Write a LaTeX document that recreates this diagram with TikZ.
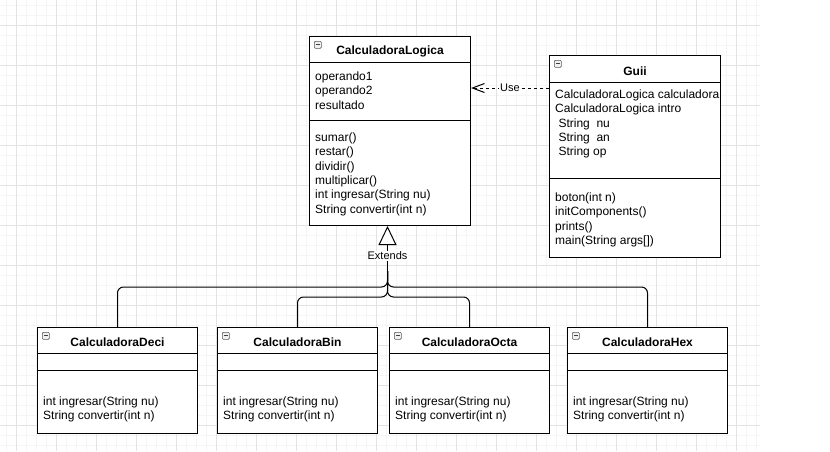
\documentclass[tikz,border=0pt]{standalone}
\usepackage{fontspec}
\setmainfont{Liberation Sans}
\usetikzlibrary{positioning,arrows.meta}

\definecolor{gridmaj}{gray}{0.89}
\definecolor{gridmin}{gray}{0.96}

\begin{document}
\begin{tikzpicture}[
  x=1pt, y=-1pt,
  font=\fontsize{12}{14.4}\selectfont,
  cls/.style={draw, fill=white, line width=1pt, anchor=north west, inner sep=0pt},
  sep/.style={line width=1pt},
  title/.style={anchor=base, inner sep=0pt, font=\fontsize{12}{14.4}\selectfont\bfseries},
  members/.style={align=left, inner sep=0pt},
  icon/.style={draw=gray!70!black, fill=gray!12, line width=0.6pt, rounded corners=1pt,
    minimum size=7pt, inner sep=0pt, anchor=north west,
    path picture={\draw[line width=0.9pt, black!75] ([xshift=1.6pt]path picture bounding box.west) -- ([xshift=-1.6pt]path picture bounding box.east);}},
  lbl/.style={fill=white, inner sep=1pt, font=\fontsize{11}{13.2}\selectfont},
  branch/.style={line width=1pt, rounded corners=6pt},
  ext/.style={line width=1pt, -{Triangle[length=19pt, width=18pt, fill=white]}},
  dep/.style={line width=1pt, dash pattern=on 3pt off 3pt, -{Straight Barb[length=12pt, width=9pt]}}]

  % background grid
  \fill[white] (0,0) rectangle (830,451);
  \useasboundingbox (0,0) rectangle (830,451);
  \foreach \i in {0,...,75} \draw[gridmin, line width=0.6pt] (6.7+10*\i,0) -- (6.7+10*\i,451);
  \foreach \j in {0,...,44} \draw[gridmin, line width=0.6pt] (0,5.7+10*\j) -- (760,5.7+10*\j);
  \foreach \i in {0,...,18} \draw[gridmaj, line width=0.6pt] (16.7+40*\i,0) -- (16.7+40*\i,451);
  \foreach \j in {0,...,10} \draw[gridmaj, line width=0.6pt] (0,25.7+40*\j) -- (760,25.7+40*\j);

  % CalculadoraLogica
  \node[cls, minimum width=161pt, minimum height=189pt] (logica) at (309,36) {};
  \node[icon, below right=5pt and 5pt of logica.north west] (logicaI) {};
  \node[title] (logicaT) at ([yshift=-18pt]logica.north) {CalculadoraLogica};
  \draw[sep] ([yshift=-26pt]logica.north west) -- ([yshift=-26pt]logica.north east);
  \draw[sep] ([yshift=-84pt]logica.north west) -- ([yshift=-84pt]logica.north east);
  \node[members, below right=34pt and 6pt of logica.north west] (logicaA) {\strut operando1\\operando2\\resultado};
  \node[members, below right=95pt and 6pt of logica.north west] (logicaM) {\strut sumar()\\restar()\\dividir()\\multiplicar()\\int ingresar(String nu)\\String convertir(int n)};

  % Guii
  \node[cls, minimum width=171pt, minimum height=202pt] (guii) at (549,55) {};
  \node[icon, below right=5pt and 5pt of guii.north west] (guiiI) {};
  \node[title] (guiiT) at ([yshift=-20pt]guii.north) {Guii};
  \draw[sep] ([yshift=-27pt]guii.north west) -- ([yshift=-27pt]guii.north east);
  \draw[sep] ([yshift=-123pt]guii.north west) -- ([yshift=-123pt]guii.north east);
  \node[members, below right=33pt and 6pt of guii.north west] (guiiA) {\strut CalculadoraLogica calculadora\\CalculadoraLogica intro\\\hspace*{3.3pt}String\ \ nu\\\hspace*{3.3pt}String\ \ an\\\hspace*{3.3pt}String op};
  \node[members, below right=136pt and 6pt of guii.north west] (guiiM) {\strut boton(int n)\\initComponents()\\prints()\\main(String args[])};

  % CalculadoraDeci
  \node[cls, minimum width=160pt, minimum height=106pt] (deci) at (37,327) {};
  \node[icon, below right=5pt and 5pt of deci.north west] (deciI) {};
  \node[title] (deciT) at ([yshift=-19pt]deci.north) {CalculadoraDeci};
  \draw[sep] ([yshift=-26pt]deci.north west) -- ([yshift=-26pt]deci.north east);
  \draw[sep] ([yshift=-43pt]deci.north west) -- ([yshift=-43pt]deci.north east);
  \node[members, below right=68pt and 6pt of deci.north west] (deciM) {\strut int ingresar(String nu)\\String convertir(int n)};

  % CalculadoraBin
  \node[cls, minimum width=160pt, minimum height=106pt] (bin) at (217,327) {};
  \node[icon, below right=5pt and 5pt of bin.north west] (binI) {};
  \node[title] (binT) at ([yshift=-19pt]bin.north) {CalculadoraBin};
  \draw[sep] ([yshift=-26pt]bin.north west) -- ([yshift=-26pt]bin.north east);
  \draw[sep] ([yshift=-43pt]bin.north west) -- ([yshift=-43pt]bin.north east);
  \node[members, below right=68pt and 6pt of bin.north west] (binM) {\strut int ingresar(String nu)\\String convertir(int n)};

  % CalculadoraOcta
  \node[cls, minimum width=160pt, minimum height=106pt] (octa) at (389,327) {};
  \node[icon, below right=5pt and 5pt of octa.north west] (octaI) {};
  \node[title] (octaT) at ([yshift=-19pt]octa.north) {CalculadoraOcta};
  \draw[sep] ([yshift=-26pt]octa.north west) -- ([yshift=-26pt]octa.north east);
  \draw[sep] ([yshift=-43pt]octa.north west) -- ([yshift=-43pt]octa.north east);
  \node[members, below right=68pt and 6pt of octa.north west] (octaM) {\strut int ingresar(String nu)\\String convertir(int n)};

  % CalculadoraHex
  \node[cls, minimum width=160pt, minimum height=106pt] (hex) at (567,327) {};
  \node[icon, below right=5pt and 5pt of hex.north west] (hexI) {};
  \node[title] (hexT) at ([yshift=-19pt]hex.north) {CalculadoraHex};
  \draw[sep] ([yshift=-26pt]hex.north west) -- ([yshift=-26pt]hex.north east);
  \draw[sep] ([yshift=-43pt]hex.north west) -- ([yshift=-43pt]hex.north east);
  \node[members, below right=68pt and 6pt of hex.north west] (hexM) {\strut int ingresar(String nu)\\String convertir(int n)};

  % inheritance
  \coordinate (inh) at ([xshift=-2.5pt]logica.south);
  \coordinate (trunk) at ([yshift=-45pt]inh);
  \draw[branch] (deci.north) |- ([yshift=-61pt]inh) -- (trunk);
  \draw[branch] (bin.north) |- ([yshift=-71pt]inh) -- (trunk);
  \draw[branch] (octa.north) |- ([yshift=-71pt]inh) -- (trunk);
  \draw[branch] (hex.north) |- ([yshift=-61pt]inh) -- (trunk);
  \draw[ext] (trunk) -- (inh);
  \node[lbl] (extL) at ([yshift=-30pt]inh) {Extends};

  % dependency
  \draw[dep] ([yshift=-33pt]guii.north west) -- ([yshift=-33pt]guii.north west -| logica.east) node[lbl, pos=0.5] (useL) {Use};
\end{tikzpicture}
\end{document}
